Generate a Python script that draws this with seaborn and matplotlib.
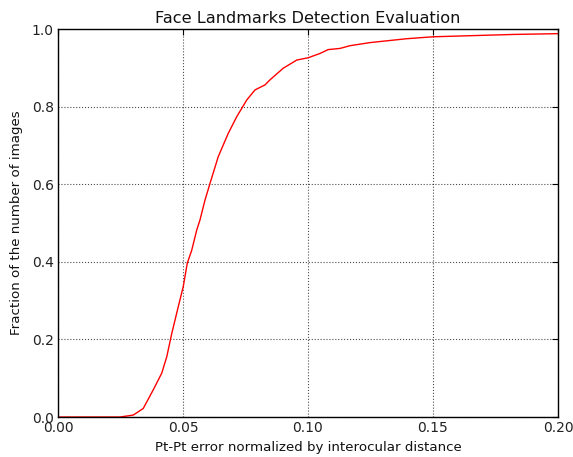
import matplotlib
matplotlib.use("Agg")
import matplotlib.pyplot as plt
import seaborn as sns
import pandas as pd

err = [0.0, 0.0168, 0.0248, 0.0301, 0.0341, 0.0381, 0.0415, 0.0435, 0.0455, 0.0481,
       0.0501, 0.0517, 0.0535, 0.0555, 0.0568, 0.0588, 0.0608, 0.0641, 0.0681,
       0.0715, 0.0755, 0.0788, 0.0828, 0.0848, 0.0901, 0.0955, 0.1001, 0.1048,
       0.1081, 0.1128, 0.1168, 0.1248, 0.1395, 0.1500, 0.1608, 0.1820, 0.1995, 0.2000]
frac = [0.0, 0.0, 0.0, 0.005, 0.022, 0.070, 0.113, 0.155, 0.215, 0.284,
        0.336, 0.396, 0.430, 0.482, 0.508, 0.559, 0.602, 0.671, 0.731,
        0.774, 0.817, 0.843, 0.856, 0.869, 0.899, 0.920, 0.926, 0.937,
        0.947, 0.950, 0.957, 0.965, 0.975, 0.980, 0.982, 0.986, 0.988, 0.988]
xticks = [0.0, 0.05, 0.10, 0.15, 0.20]
xticklabels = ["0.00", "0.05", "0.10", "0.15", "0.20"]
yticks = [0.0, 0.2, 0.4, 0.6, 0.8, 1.0]
yticklabels = ["0.0", "0.2", "0.4", "0.6", "0.8", "1.0"]

sns.set_style("white")
plt.rcParams['font.family'] = ['DejaVu Sans']

df = pd.DataFrame({"err": err, "frac": frac})

fig = plt.figure(figsize=(5.73, 4.57), dpi=100)
ax = fig.add_axes([0.1012, 0.0875, 0.8726, 0.849])
sns.lineplot(data=df, x="err", y="frac", ax=ax, color="red", linewidth=1.0)
ax.set_xlim(0, 0.2)
ax.set_ylim(0, 1.0)
ax.set_xticks(xticks)
ax.set_xticklabels(xticklabels)
ax.set_yticks(yticks)
ax.set_yticklabels(yticklabels)
ax.tick_params(axis='both', which='both', direction='in', top=True, right=True,
               length=4, width=0.8, labelsize=10, color='black', pad=3,
               labelcolor='#222222')
ax.grid(True, linestyle=':', color='black', linewidth=0.8, alpha=0.7)
for s in ax.spines.values():
    s.set_color('black')
    s.set_linewidth(1.0)
ax.set_xlabel("Pt-Pt error normalized by interocular distance", fontsize=9.6,
              labelpad=4, color='#111111')
ax.set_ylabel("Fraction of the number of images", fontsize=9.6, labelpad=6,
              color='#111111')
ax.set_title("Face Landmarks Detection Evaluation", fontsize=11.6, pad=4,
             color='#111111')
fig.savefig("out.png", dpi=100)
